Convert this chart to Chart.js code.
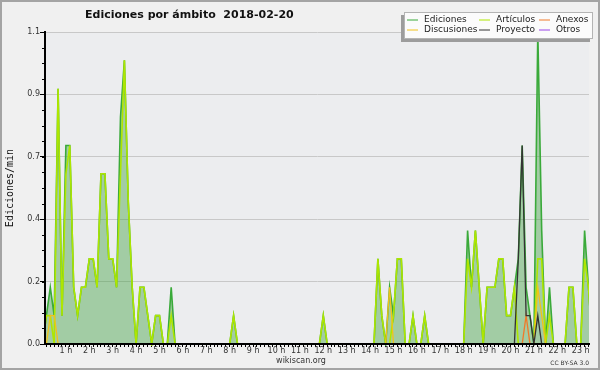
<!DOCTYPE html>
<html><head><meta charset="utf-8">
<script src="https://cdn.jsdelivr.net/npm/chart.js@4/dist/chart.umd.min.js"></script>
<style>html,body{margin:0;padding:0;background:#f0f0f0;}canvas{display:block;}</style>
</head><body>
<canvas id="c" width="600" height="370"></canvas>
<script>
const chartTitle = 'Ediciones por ámbito  2018-02-20';
const yAxisTitle = 'Ediciones/min';
const xAxisTitle = 'wikiscan.org';
const licenseText = 'CC BY-SA 3.0';
const slotMinutes = 10; // one value per 10-minute slot, 00:00 .. 23:50

// Values per 10-minute slot (one line per hour)
const ediciones = [
 0,0.1,0.2,0.1,0.9,0.1,
 0.7,0.7,0.2,0.1,0.2,0.2,
 0.3,0.3,0.2,0.6,0.6,0.3,
 0.3,0.2,0.8,1.0,0.5,0.2,
 0,0.2,0.2,0.1,0,0.1,
 0.1,0,0,0.2,0,0,
 0,0,0,0,0,0,
 0,0,0,0,0,0,
 0,0.1,0,0,0,0,
 0,0,0,0,0,0,
 0,0,0,0,0,0,
 0,0,0,0,0,0,
 0.1,0,0,0,0,0,
 0,0,0,0,0,0,
 0,0,0.3,0.1,0,0.2,
 0.1,0.3,0.3,0,0,0.1,
 0,0,0.1,0,0,0,
 0,0,0,0,0,0,
 0,0.4,0.2,0.4,0.2,0,
 0.2,0.2,0.2,0.3,0.3,0.1,
 0.1,0.2,0.3,0.7,0.2,0.1,
 0,1.1,0.4,0,0.2,0,
 0,0,0,0.2,0.2,0,
 0,0.4,0.2,0,0,0
];
const articulos = [
 0,0.1,0.1,0,0.9,0.1,
 0.6,0.7,0.2,0.1,0.2,0.2,
 0.3,0.3,0.2,0.6,0.6,0.3,
 0.3,0.2,0.6,1.0,0.5,0.2,
 0,0.2,0.2,0.1,0,0.1,
 0.1,0,0,0.1,0,0,
 0,0,0,0,0,0,
 0,0,0,0,0,0,
 0,0.1,0,0,0,0,
 0,0,0,0,0,0,
 0,0,0,0,0,0,
 0,0,0,0,0,0,
 0.1,0,0,0,0,0,
 0,0,0,0,0,0,
 0,0,0.3,0.1,0,0,
 0.1,0.3,0.3,0,0,0.1,
 0,0,0.1,0,0,0,
 0,0,0,0,0,0,
 0,0.3,0.2,0.4,0.2,0,
 0.2,0.2,0.2,0.3,0.3,0.1,
 0.1,0.2,0,0,0,0,
 0,0.3,0.3,0,0.1,0,
 0,0,0,0.2,0.2,0,
 0,0.3,0.2,0,0,0
];
const anexos = [
 0,0,0,0,0,0, 0,0,0,0,0,0, 0,0,0,0,0,0, 0,0,0,0,0,0,
 0,0,0,0,0,0, 0,0,0,0,0,0, 0,0,0,0,0,0, 0,0,0,0,0,0,
 0,0,0,0,0,0, 0,0,0,0,0,0, 0,0,0,0,0,0, 0,0,0,0,0,0,
 0,0,0,0,0,0, 0,0,0,0,0,0, 0,0,0,0,0,0, 0,0,0,0,0,0,
 0,0,0,0,0,0, 0,0,0,0,0,0, 0,0,0,0,0,0, 0,0,0,0,0,0,
 0,0,0,0,0.1,0, 0,0,0,0,0,0, 0,0,0,0,0,0, 0,0,0,0,0,0
];
const discusiones = [
 0,0,0.1,0.1,0,0, 0,0,0,0,0,0, 0,0,0,0,0,0, 0,0,0,0,0,0,
 0,0,0,0,0,0, 0,0,0,0,0,0, 0,0,0,0,0,0, 0,0,0,0,0,0,
 0,0,0,0,0,0, 0,0,0,0,0,0, 0,0,0,0,0,0, 0,0,0,0,0,0,
 0,0,0,0,0,0, 0,0,0,0,0,0, 0,0,0,0,0,0.2, 0,0,0,0,0,0,
 0,0,0,0,0,0, 0,0,0,0,0,0, 0,0,0,0,0,0, 0,0,0,0,0,0,
 0,0,0,0,0,0, 0,0.2,0.1,0,0,0, 0,0,0,0,0,0, 0,0,0,0,0,0
];
const proyecto = [
 0,0,0,0,0,0, 0,0,0,0,0,0, 0,0,0,0,0,0, 0,0,0,0,0,0,
 0,0,0,0,0,0, 0,0,0,0,0,0, 0,0,0,0,0,0, 0,0,0,0,0,0,
 0,0,0,0,0,0, 0,0,0,0,0,0, 0,0,0,0,0,0, 0,0,0,0,0,0,
 0,0,0,0,0,0, 0,0,0,0,0,0, 0,0,0,0,0,0, 0,0,0,0,0,0,
 0,0,0,0,0,0, 0,0,0,0,0,0, 0,0,0,0,0,0, 0,0,0,0,0,0,
 0,0,0.3,0.7,0.1,0.1, 0,0.1,0,0,0,0, 0,0,0,0,0,0, 0,0,0,0,0,0
];
const otros = [
 0,0,0,0,0,0, 0,0,0,0,0,0, 0,0,0,0,0,0, 0,0,0,0,0,0,
 0,0,0,0,0,0, 0,0,0,0,0,0, 0,0,0,0,0,0, 0,0,0,0,0,0,
 0,0,0,0,0,0, 0,0,0,0,0,0, 0,0,0,0,0,0, 0,0,0,0,0,0,
 0,0,0,0,0,0, 0,0,0,0,0,0, 0,0,0,0,0,0, 0,0,0,0,0,0,
 0,0,0,0,0,0, 0,0,0,0,0,0, 0,0,0,0,0,0, 0,0,0,0,0,0,
 0,0,0,0,0,0, 0,0,0,0,0,0, 0,0,0,0,0,0, 0,0,0,0,0,0
];

const hourTickLabels = ['1 h','2 h','3 h','4 h','5 h','6 h','7 h','8 h','9 h','10 h','11 h','12 h',
  '13 h','14 h','15 h','16 h','17 h','18 h','19 h','20 h','21 h','22 h','23 h'];
const yTickValues = [0, 0.22, 0.44, 0.66, 0.88, 1.1];
const yTickLabels = ['0.0','0.2','0.4','0.7','0.9','1.1'];
const yMinorStep = 0.055;

Chart.defaults.font.family = "'DejaVu Sans', sans-serif";

const toPoints = arr => arr.map((v, i) => ({x: i * slotMinutes / 60, y: v}));

const seriesDefs = [
  {label:'Ediciones',   data: ediciones,   color:'#3aaa3a', order:6, fill:true,  width:1.6},
  {label:'Artículos',   data: articulos,   color:'#aee600', order:5, fill:false, width:1.6},
  {label:'Anexos',      data: anexos,      color:'#f07a2a', order:3, fill:false, width:1.3},
  {label:'Discusiones', data: discusiones, color:'#f2c21a', order:4, fill:false, width:1.3},
  {label:'Proyecto',    data: proyecto,    color:'#333333', order:1, fill:false, width:1.3},
  {label:'Otros',       data: otros,       color:'#9a44e8', order:2, fill:false, width:1.3}
];

const decor = {
  id: 'decor',
  beforeDraw(chart) {
    const ctx = chart.ctx, a = chart.chartArea;
    ctx.save();
    ctx.fillStyle = '#f0f0f0';
    ctx.fillRect(0, 0, chart.width, chart.height);
    ctx.fillStyle = '#ecedef';
    ctx.fillRect(a.left, a.top, a.right - a.left, a.bottom - a.top);
    ctx.strokeStyle = '#a4a4a4';
    ctx.lineWidth = 2;
    ctx.strokeRect(1, 1, chart.width - 2, chart.height - 2);
    ctx.restore();
  },
  afterDraw(chart) {
    const ctx = chart.ctx, a = chart.chartArea, y = chart.scales.y;
    ctx.save();
    // minor y ticks
    ctx.strokeStyle = '#000';
    ctx.lineWidth = 1;
    for (let v = yMinorStep; v < 1.1 - 1e-6; v += yMinorStep) {
      const py = Math.round(y.getPixelForValue(v)) + 0.5;
      ctx.beginPath(); ctx.moveTo(a.left - 3, py); ctx.lineTo(a.left, py); ctx.stroke();
    }
    // title
    ctx.fillStyle = '#111';
    ctx.font = "bold 11px 'DejaVu Sans'";
    ctx.textAlign = 'left'; ctx.textBaseline = 'alphabetic';
    ctx.fillText(chartTitle, 85, 18);
    // x footer
    ctx.font = "8px 'DejaVu Sans'";
    ctx.fillStyle = '#333';
    ctx.textAlign = 'center'; ctx.textBaseline = 'middle';
    ctx.fillText(xAxisTitle, 301, 361);
    ctx.font = "6px 'DejaVu Sans'";
    ctx.textAlign = 'right';
    ctx.fillText(licenseText, 589, 363);
    // legend box
    ctx.fillStyle = '#9c9c9c';
    ctx.fillRect(401, 15, 189, 27);
    ctx.fillStyle = '#fbfbfb';
    ctx.fillRect(404, 12, 189, 27);
    ctx.strokeStyle = '#b4b4b4';
    ctx.lineWidth = 1;
    ctx.strokeRect(404.5, 12.5, 188, 26);
    const cols = [[407, 424], [479, 496], [539, 556]];
    const rows = [19.5, 29.5];
    const layout = ['Ediciones','Artículos','Anexos','Discusiones','Proyecto','Otros'];
    ctx.font = "9px 'DejaVu Sans'";
    ctx.textAlign = 'left'; ctx.textBaseline = 'middle';
    layout.forEach((name, k) => {
      const ds = chart.data.datasets.find(d => d.label === name);
      const c = cols[k % 3], r = rows[Math.floor(k / 3)];
      ctx.strokeStyle = ds.borderColor;
      ctx.lineWidth = 1;
      ctx.beginPath(); ctx.moveTo(c[0], r + 0.5); ctx.lineTo(c[0] + 11, r + 0.5); ctx.stroke();
      ctx.fillStyle = '#222';
      ctx.fillText(name, c[1], r);
    });
    ctx.restore();
  }
};

new Chart(document.getElementById('c'), {
  type: 'line',
  data: {
    datasets: seriesDefs.map(s => ({
      label: s.label,
      data: toPoints(s.data),
      borderColor: s.color,
      backgroundColor: s.fill ? 'rgba(60,160,60,0.42)' : s.color,
      fill: s.fill ? 'origin' : false,
      borderWidth: s.width,
      pointRadius: 0,
      tension: 0,
      order: s.order,
      clip: {left: 0, right: 0, top: 8, bottom: 2}
    }))
  },
  options: {
    responsive: false,
    animation: false,
    devicePixelRatio: 1,
    layout: {padding: {left: 0, right: 11, top: 32, bottom: 0}},
    plugins: {legend: {display: false}, title: {display: false}, tooltip: {enabled: false}},
    scales: {
      x: {
        type: 'linear', min: 0.107, max: 23.355,
        afterBuildTicks: s => { const t = []; for (let k = 1; k <= 140; k++) t.push({value: k / 6}); s.ticks = t; },
        afterFit: s => { s.height = 26; },
        ticks: {
          autoSkip: false, maxRotation: 0, minRotation: 0, padding: -1, color: '#333',
          font: {size: 8},
          callback: v => { const k = Math.round(v * 6); return k % 6 === 0 ? hourTickLabels[k / 6 - 1] : ''; }
        },
        grid: {drawOnChartArea: false, drawTicks: true, tickLength: 3, tickColor: '#000', tickWidth: 1},
        border: {display: true, color: '#000', width: 2, z: 1}
      },
      y: {
        min: 0, max: 1.1,
        afterBuildTicks: s => { s.ticks = yTickValues.map(v => ({value: v})); },
        afterFit: s => { s.width = 45; },
        ticks: {padding: 0, color: '#333', font: {size: 8}, callback: (v, i) => yTickLabels[i]},
        grid: {color: '#c8c8c8', lineWidth: 1, tickColor: '#000', tickLength: 5, drawTicks: true},
        border: {display: true, color: '#000', width: 2, z: 1},
        title: {display: true, text: yAxisTitle, color: '#111',
                font: {family: "'DejaVu Sans Mono'", size: 10}, padding: {top: 4, bottom: 0}}
      }
    }
  },
  plugins: [decor]
});
</script>
</body></html>
